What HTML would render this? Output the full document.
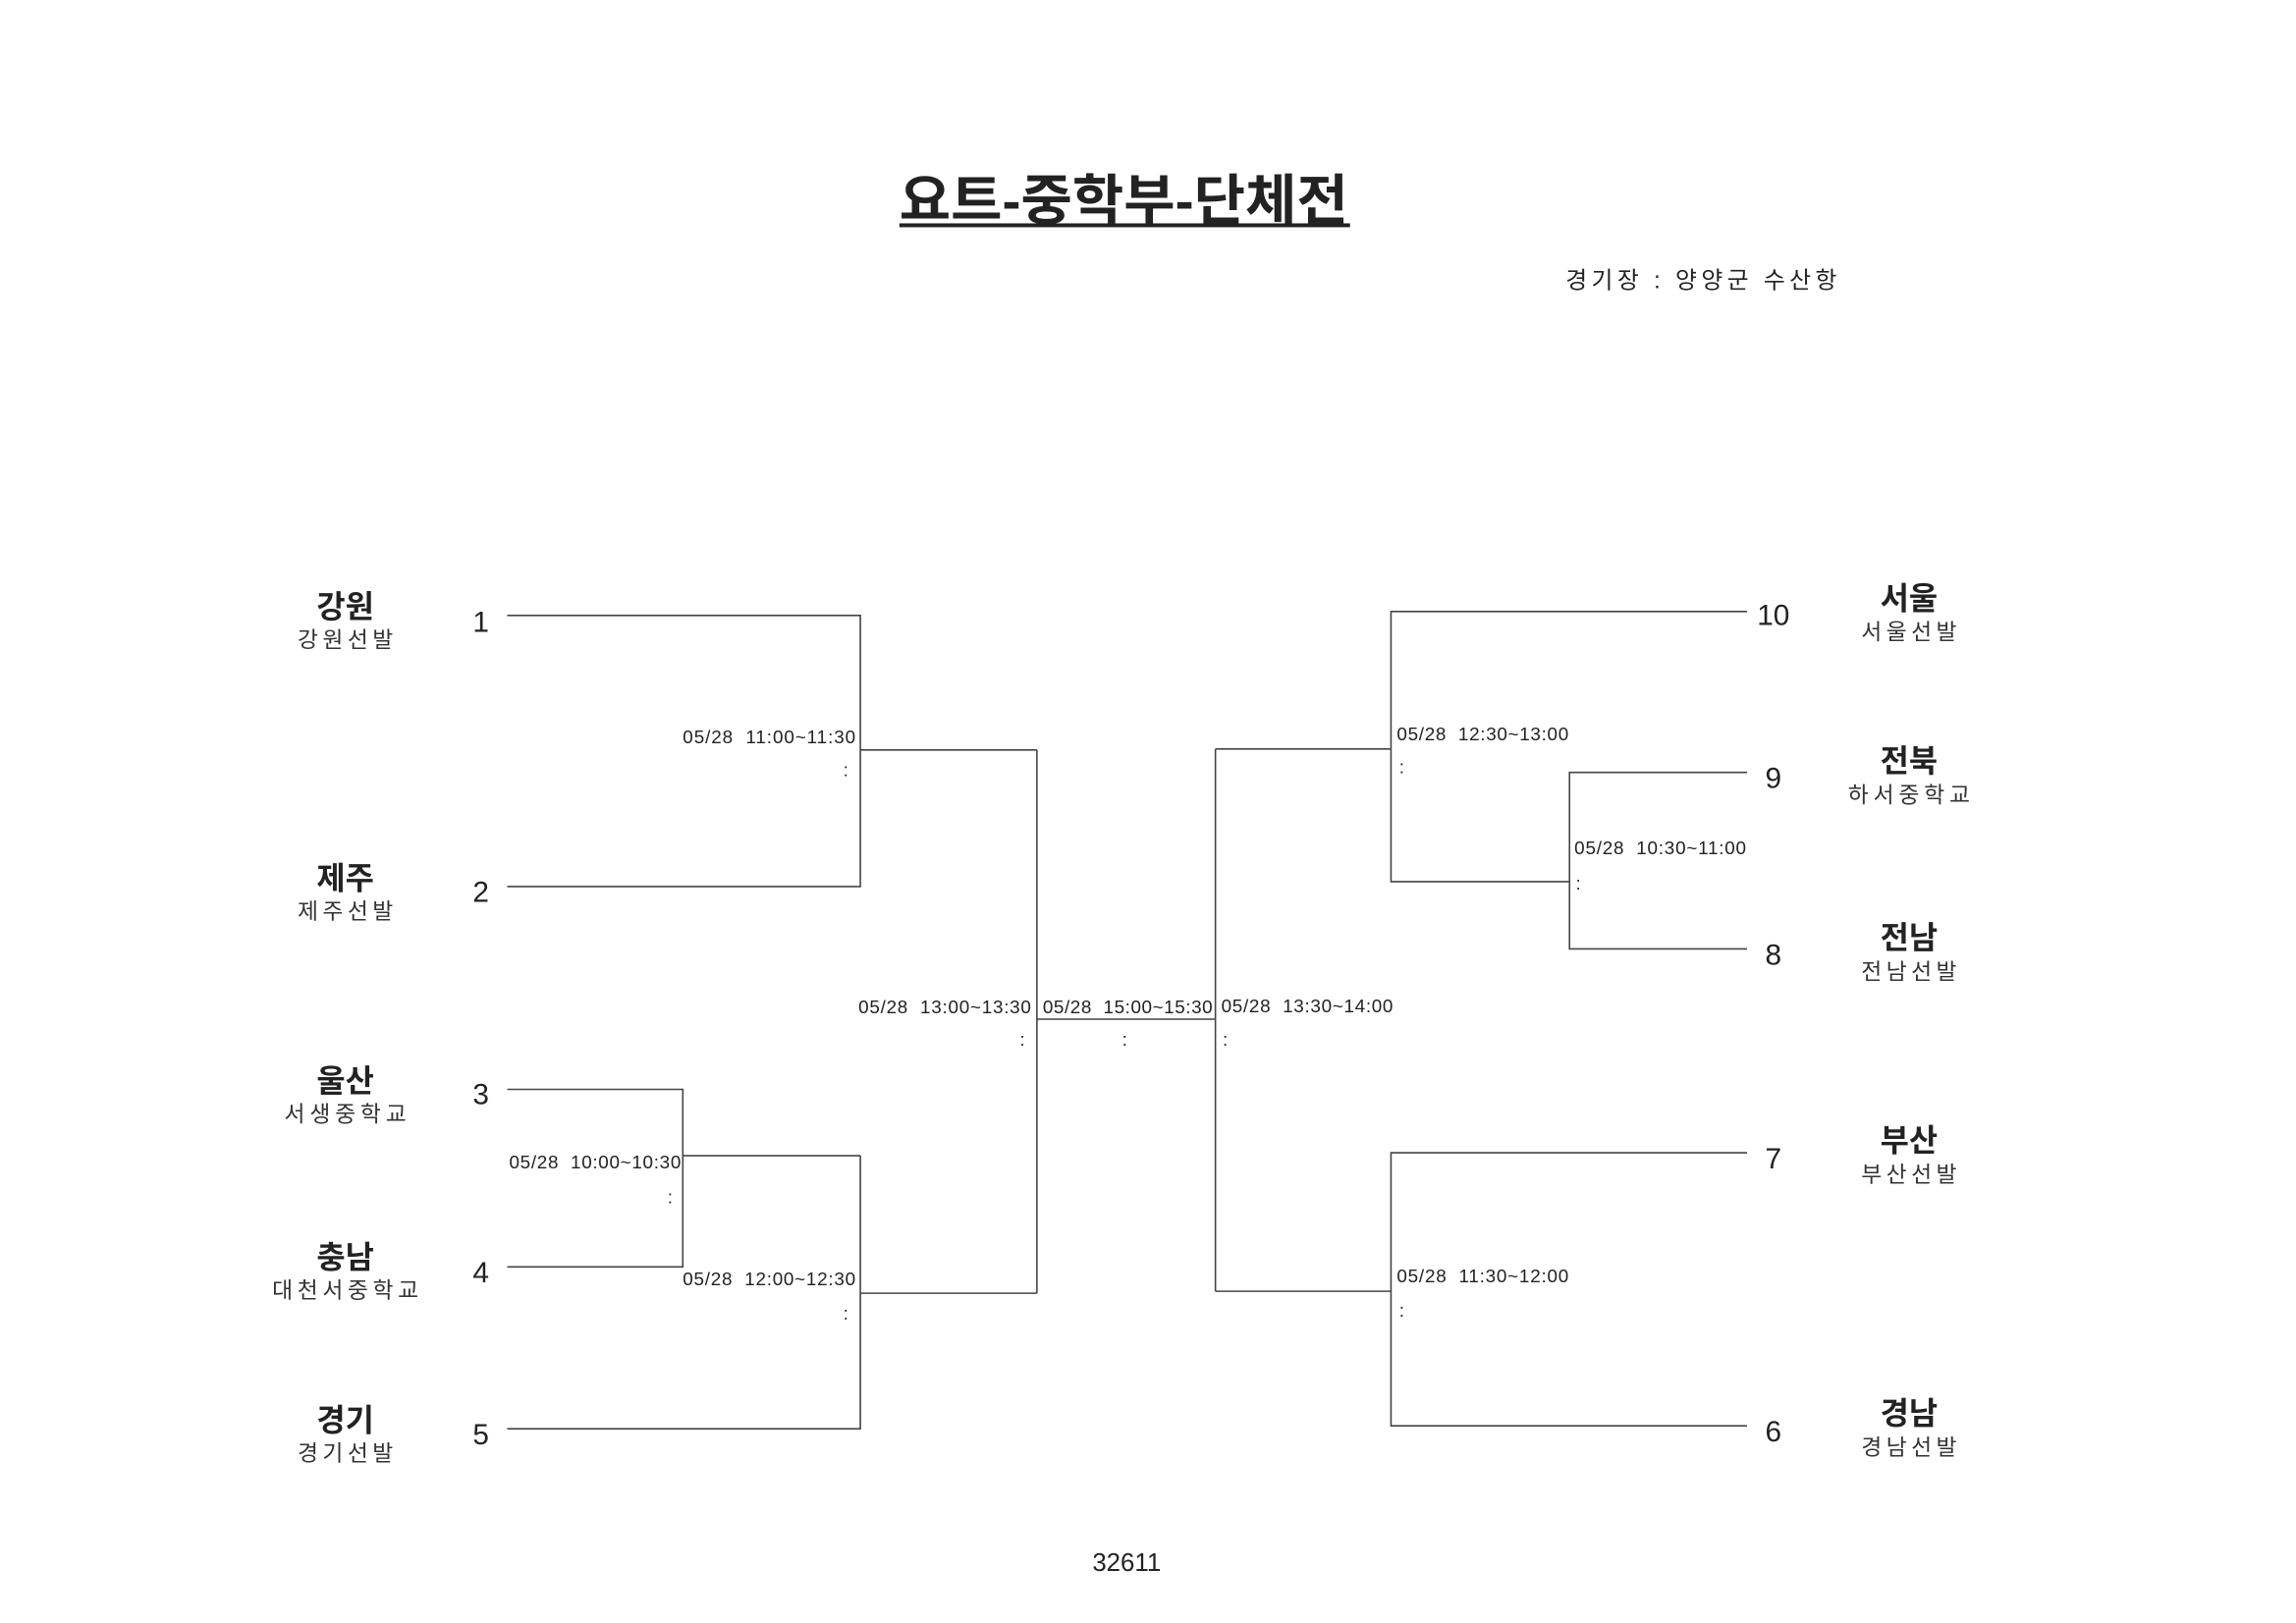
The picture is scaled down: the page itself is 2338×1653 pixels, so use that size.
<!DOCTYPE html>
<html><head><meta charset="utf-8"><style>
html,body{margin:0;padding:0;background:#fff}
svg{display:block}
text{font-family:"Liberation Sans","Noto Sans CJK KR","NanumGothic",sans-serif;fill:#222}
.l{font-size:19px;white-space:pre}
.n{font-size:30px}
.b{font-size:32px;font-weight:bold}
.s{font-size:23px;fill:#333}
</style></head><body>
<svg width="2338" height="1653" viewBox="0 0 2338 1653" xmlns="http://www.w3.org/2000/svg">
<g transform="scale(0.9933)">
<text x="922" y="210" dominant-baseline="middle" textLength="460" lengthAdjust="spacingAndGlyphs" style="font-size:56px;font-weight:bold">요트-중학부-단체전</text>
<rect x="922" y="229" width="462" height="4" fill="#222"/>
<text x="1605" y="289" dominant-baseline="middle" textLength="278" style="font-size:24px;white-space:pre">경기장 : 양양군 수산항</text>
<text x="1155" y="1604" text-anchor="middle" dominant-baseline="middle" style="font-size:26px">32611</text>

<g stroke="#444" stroke-width="1.6" fill="none">
<polyline points="520,631 882,631 882,909 520,909"/>
<line x1="882" y1="769" x2="1063" y2="769"/>
<polyline points="520,1117 700,1117 700,1299 520,1299"/>
<line x1="700" y1="1185" x2="882" y2="1185"/>
<polyline points="520,1465 882,1465 882,1185"/>
<line x1="882" y1="1326" x2="1063" y2="1326"/>
<polyline points="1063,769 1063,1326"/>
<line x1="1063" y1="1045" x2="1246" y2="1045"/>
<line x1="1246" y1="768" x2="1246" y2="1324"/>
<line x1="1246" y1="768" x2="1426" y2="768"/>
<polyline points="1791,627 1426,627 1426,904 1609,904"/>
<polyline points="1791,792 1609,792 1609,973 1791,973"/>
<line x1="1246" y1="1324" x2="1426" y2="1324"/>
<polyline points="1791,1182 1426,1182 1426,1462 1791,1462"/>
</g>

<g dominant-baseline="middle" transform="translate(0,4)">
<text class="b" x="354" y="621" text-anchor="middle">강원</text><text class="s" x="354" y="654" text-anchor="middle" textLength="98">강원선발</text>
<text class="b" x="354" y="899" text-anchor="middle">제주</text><text class="s" x="354" y="932" text-anchor="middle" textLength="98">제주선발</text>
<text class="b" x="354" y="1107" text-anchor="middle">울산</text><text class="s" x="354" y="1140" text-anchor="middle" textLength="125">서생중학교</text>
<text class="b" x="354" y="1288" text-anchor="middle">충남</text><text class="s" x="354" y="1321" text-anchor="middle" textLength="150">대천서중학교</text>
<text class="b" x="354" y="1455" text-anchor="middle">경기</text><text class="s" x="354" y="1488" text-anchor="middle" textLength="98">경기선발</text>

<text class="n" x="493" y="636" text-anchor="middle">1</text>
<text class="n" x="493" y="913" text-anchor="middle">2</text>
<text class="n" x="493" y="1120" text-anchor="middle">3</text>
<text class="n" x="493" y="1303" text-anchor="middle">4</text>
<text class="n" x="493" y="1469" text-anchor="middle">5</text>

<text class="n" x="1818" y="629" text-anchor="middle">10</text>
<text class="n" x="1818" y="796" text-anchor="middle">9</text>
<text class="n" x="1818" y="977" text-anchor="middle">8</text>
<text class="n" x="1818" y="1186" text-anchor="middle">7</text>
<text class="n" x="1818" y="1466" text-anchor="middle">6</text>

<text class="b" x="1957" y="612" text-anchor="middle">서울</text><text class="s" x="1957" y="646" text-anchor="middle" textLength="98">서울선발</text>
<text class="b" x="1957" y="779" text-anchor="middle">전북</text><text class="s" x="1957" y="813" text-anchor="middle" textLength="125">하서중학교</text>
<text class="b" x="1957" y="960" text-anchor="middle">전남</text><text class="s" x="1957" y="994" text-anchor="middle" textLength="98">전남선발</text>
<text class="b" x="1957" y="1168" text-anchor="middle">부산</text><text class="s" x="1957" y="1202" text-anchor="middle" textLength="98">부산선발</text>
<text class="b" x="1957" y="1448" text-anchor="middle">경남</text><text class="s" x="1957" y="1482" text-anchor="middle" textLength="98">경남선발</text>

<text class="l" x="877" y="753" text-anchor="end" textLength="177">05/28  11:00~11:30</text><text class="l" x="867" y="787" text-anchor="middle">:</text>
<text class="l" x="522" y="1189" textLength="176">05/28  10:00~10:30</text><text class="l" x="687" y="1225" text-anchor="middle">:</text>
<text class="l" x="877" y="1309" text-anchor="end" textLength="177">05/28  12:00~12:30</text><text class="l" x="867" y="1344" text-anchor="middle">:</text>
<text class="l" x="1057" y="1030" text-anchor="end" textLength="177">05/28  13:00~13:30</text><text class="l" x="1048" y="1063" text-anchor="middle">:</text>
<text class="l" x="1069" y="1030" textLength="174">05/28  15:00~15:30</text><text class="l" x="1153" y="1063" text-anchor="middle">:</text>
<text class="l" x="1252" y="1029" textLength="176">05/28  13:30~14:00</text><text class="l" x="1256" y="1063" text-anchor="middle">:</text>
<text class="l" x="1432" y="750" textLength="176">05/28  12:30~13:00</text><text class="l" x="1437" y="784" text-anchor="middle">:</text>
<text class="l" x="1614" y="867" textLength="176">05/28  10:30~11:00</text><text class="l" x="1618" y="903" text-anchor="middle">:</text>
<text class="l" x="1432" y="1306" textLength="176">05/28  11:30~12:00</text><text class="l" x="1437" y="1341" text-anchor="middle">:</text>
</g>
</g>
</svg>
</body></html>
